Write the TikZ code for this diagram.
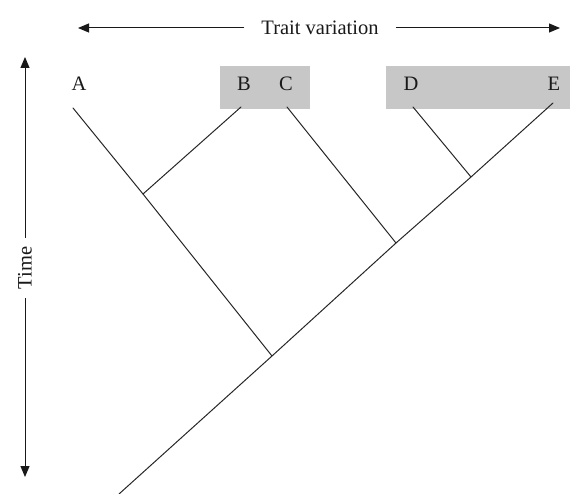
\documentclass[tikz,border=0pt]{standalone}
\usepackage{fontspec}
\setmainfont{Liberation Serif}
\usetikzlibrary{arrows.meta}
\begin{document}
\begin{tikzpicture}[x=1pt,y=-1pt,
  branch/.style={line width=1pt, draw=black!85, line cap=round},
  axis/.style={line width=1pt, draw=black!90, -{Triangle[length=11pt,width=9pt]}},
  lbl/.style={font=\fontsize{20.5}{24}\selectfont, inner sep=0pt, text=black!90},
  band/.style={fill=black!22, draw=none}]
\useasboundingbox (0,0) rectangle (573,494);

% shaded groups of taxa
\fill[band] (220,66) rectangle (310,109);
\fill[band] (386,66) rectangle (570,109);

% taxon labels
\node[lbl] (A) at (79,84) {A};
\node[lbl] (B) at (244,84) {B};
\node[lbl] (C) at (286,84) {C};
\node[lbl] (D) at (411,84) {D};
\node[lbl] (E) at (554,84) {E};

% tree: tips, internal nodes and root
\coordinate (tipA) at (73,108);
\coordinate (tipB) at (241,107);
\coordinate (tipC) at (287,107);
\coordinate (tipD) at (413,107);
\coordinate (tipE) at (553,103);
\coordinate (jB) at (143,194);
\coordinate (jA) at (272,356);
\coordinate (jC) at (396,243);
\coordinate (jD) at (471,177);
\coordinate (root) at (119,494);

\draw[branch] (root) -- (jA) -- (jC) -- (jD) -- (tipE);
\draw[branch] (jA) -- (jB) -- (tipA);
\draw[branch] (jB) -- (tipB);
\draw[branch] (jC) -- (tipC);
\draw[branch] (jD) -- (tipD);

% trait axis
\node[lbl, inner xsep=17pt] (trait) at (320,28) {Trait variation};
\coordinate (traitL) at (78,28);
\coordinate (traitR) at (560,28);
\draw[axis] (trait.west) -- (traitL);
\draw[axis] (trait.east) -- (traitR);

% time axis
\node[lbl, rotate=90, inner xsep=9pt] (time) at (25,268) {Time};
\coordinate (timeT) at (25,57);
\coordinate (timeB) at (25,477);
\draw[axis] (time.east) -- (timeT);
\draw[axis] (time.west) -- (timeB);
\end{tikzpicture}
\end{document}
